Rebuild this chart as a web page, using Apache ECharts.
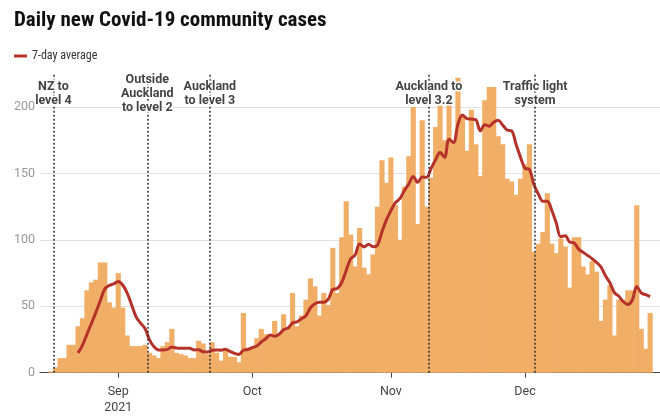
<!DOCTYPE html>
<html><head><meta charset="utf-8">
<script src="https://cdn.jsdelivr.net/npm/echarts@6.0.0/dist/echarts.min.js"></script>
<style>html,body{margin:0;padding:0;background:#fff}#c{width:660px;height:420px}</style>
</head><body><div id="c"></div>
<script>
// ---- data ----
const startDate = '2021-08-17';
const dailyCases = [
  1, 4, 11, 11, 21, 21, 35, 41, 62, 68, 70, 83, 83, 53, 49,
  75, 49, 28, 20, 20, 20, 21, 15, 13, 11, 20, 23, 33, 15, 14,
  13, 11, 11, 24, 22, 14, 23, 15, 9, 17, 12, 12, 8, 45, 19,
  19, 26, 33, 29, 27, 39, 29, 44, 34, 60, 35, 43, 55, 71, 65,
  43, 60, 51, 94, 60, 102, 129, 104, 80, 109, 79, 74, 89, 125, 160,
  143, 162, 126, 100, 140, 163, 200, 112, 190, 125, 147, 185, 201, 175, 207,
  173, 222, 194, 167, 198, 172, 148, 205, 215, 215, 178, 172, 146, 144, 134,
  146, 157, 172, 91, 97, 106, 135, 97, 90, 101, 95, 64, 102, 102, 80,
  74, 84, 76, 39, 55, 66, 28, 55, 55, 62, 62, 126, 33, 18, 45
];
const averageStartDay = 6; // the 7-day average line begins on Aug 23
const sevenDayAverage = [
  14.9, 20.6, 28.9, 37.0, 45.4, 54.3, 63.1, 65.7, 66.9, 68.7, 66.0, 60.0, 51.0, 42.0,
  37.3, 33.3, 24.7, 19.6, 17.1, 17.1, 17.6, 19.4, 18.6, 18.4, 18.4, 18.4, 17.1, 17.3,
  15.7, 15.6, 16.9, 17.1, 16.9, 17.7, 16.0, 14.6, 13.7, 16.9, 17.4, 18.9, 20.1, 23.1,
  25.6, 28.3, 27.4, 28.9, 32.4, 33.6, 37.4, 38.3, 40.6, 42.9, 48.9, 51.9, 53.1, 53.1,
  55.4, 62.7, 63.4, 67.9, 77.0, 85.7, 88.6, 96.9, 94.7, 96.7, 94.9, 96, 106, 115,
  122, 128, 131, 137, 142.0, 147.7, 143.3, 147.3, 147.1, 153.9, 160.3, 165.7, 162.1, 175.7,
  173.3, 187.1, 193.9, 191.3, 190.9, 190.4, 182.0, 186.6, 185.6, 188.6, 190.1, 186.4, 182.7, 182.1,
  172.0, 162.1, 153.9, 153.0, 141.4, 134.4, 129.0, 129.1, 122.1, 112.6, 102.4, 103.0, 98.3, 97.7,
  93.0, 90.6, 88.3, 85.9, 83.1, 79.6, 72.9, 67.7, 60.3, 57.6, 53.4, 51.4, 54.7, 64.9,
  60.1, 58.7, 57.3
];
const eventLabels = ['NZ to\nlevel 4', 'Outside\nAuckland\nto level 2', 'Auckland\nto level 3', 'Auckland to\nlevel 3.2', 'Traffic light\nsystem'];
const eventTimes = ['2021-08-18T00:00', '2021-09-08T00:00', '2021-09-22T00:00', '2021-11-10T00:00', '2021-12-03T18:00'];
const monthTickDates = ['2021-09-01', '2021-10-01', '2021-11-01', '2021-12-01'];
const monthTickLabels = ['Sep\n2021', 'Oct', 'Nov', 'Dec'];
const seriesName = '7-day average';

// ---- helpers ----
const DAY = 864e5;
const t0 = Date.parse(startDate + 'T00:00:00Z');
const dayIndex = s => (Date.parse((s.length === 10 ? s + 'T00:00' : s) + ':00Z') - t0) / DAY;
const monthTickIdx = monthTickDates.map(dayIndex);
const eventIdx = eventTimes.map(s => dayIndex(s) - 0.5);

const barColor = '#F1AE67';
const lineColor = '#B5322A';
const chart = echarts.init(document.getElementById('c'), null, {renderer: 'canvas'});
const condensed = '"Liberation Sans Narrow","Roboto Condensed","Arial Narrow",Roboto,sans-serif';
chart.setOption({
  animation: false,
  backgroundColor: '#fff',
  title: {
    text: 'Daily new Covid-19 community cases',
    left: 9, top: 5,
    textStyle: {fontFamily: condensed, fontWeight: 'bold', fontSize: 21, color: '#111'}
  },
  legend: {
    data: [seriesName], left: 9, top: 45,
    icon: 'rect', itemWidth: 13, itemHeight: 3, itemGap: 4,
    textStyle: {fontFamily: condensed, fontSize: 12, color: '#333'}
  },
  grid: {left: 40, right: 0, top: 73.8, bottom: 47.3, containLabel: false},
  xAxis: {
    type: 'value', min: -2.5, max: 136.2,
    axisLine: {show: true, onZero: true, lineStyle: {color: '#444', width: 1}},
    axisTick: {show: true, customValues: monthTickIdx, length: 5, lineStyle: {color: '#444'}},
    axisLabel: {
      customValues: monthTickIdx,
      formatter: v => monthTickLabels[monthTickIdx.indexOf(v)] || '',
      color: '#444', fontFamily: 'Roboto', fontSize: 12.5, lineHeight: 16, margin: 11
    },
    splitLine: {show: false}
  },
  yAxis: {
    type: 'value', min: 0, max: 225, interval: 50,
    axisLine: {show: false}, axisTick: {show: false},
    axisLabel: {color: '#999', fontFamily: 'Roboto', fontSize: 12.5, margin: 5, showMaxLabel: false},
    splitLine: {show: true, showMaxLine: false, lineStyle: {color: '#e2e2e2', width: 1}}
  },
  series: [
    {
      type: 'bar', name: 'Daily cases',
      data: dailyCases.map((v, i) => [i, v]),
      barWidth: '100%', barMinWidth: '115%',
      itemStyle: {color: barColor},
      z: 1,
      markLine: {
        silent: true, symbol: 'none', animation: false,
        lineStyle: {type: [2, 2], color: '#333', width: 1.5},
        label: {
          show: true, position: 'end', distance: -20, verticalAlign: 'middle', align: 'center',
          formatter: '{b}', color: '#444', fontFamily: 'Roboto', fontWeight: 'bold', fontSize: 12.5, lineHeight: 14,
          textBorderColor: '#fff', textBorderWidth: 3
        },
        data: eventIdx.map((x, i) => ({xAxis: x, name: eventLabels[i]}))
      }
    },
    {
      type: 'line', name: seriesName,
      data: sevenDayAverage.map((v, i) => [i + averageStartDay, v]),
      showSymbol: false, smooth: 0.35, z: 3,
      lineStyle: {width: 3, color: lineColor},
      itemStyle: {color: lineColor}
    }
  ]
});
</script></body></html>
